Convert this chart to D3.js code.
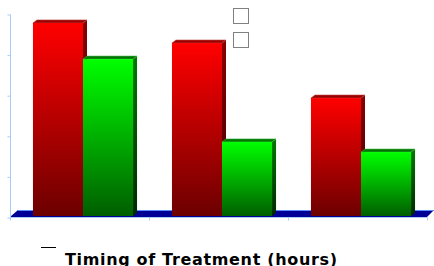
<!DOCTYPE html>
<html>
<head>
<meta charset="utf-8">
<script src="https://cdn.jsdelivr.net/npm/d3@7"></script>
<style>
  body { margin: 0; background: #fff; }
  svg { display: block; }
</style>
</head>
<body>
<div id="chart"></div>
<script>
// values (no tick labels shown, scale 0-100)
var categories = ["A", "B", "C"];
var seriesKeys = ["s1", "s2"];
var series1 = [95.1, 85.2, 58.1];
var series2 = [77.3, 36.5, 31.5];
var yTicks = [0, 20, 40, 60, 80, 100];
var xTitle = "Timing of Treatment (hours)";

var width = 434, height = 266;
var mLeft = 10, mRight = 427, mTop = 14, mBottom = 217;
var dx = 4, dy = 3; // 3d depth

var svg = d3.select("#chart").append("svg")
    .attr("width", width)
    .attr("height", height);

var defs = svg.append("defs");
function grad(id, c1, c2) {
    var g = defs.append("linearGradient").attr("id", id)
        .attr("x1", 0).attr("y1", 0).attr("x2", 0).attr("y2", 1);
    g.append("stop").attr("offset", "0%").attr("stop-color", c1);
    g.append("stop").attr("offset", "100%").attr("stop-color", c2);
}
grad("redFront", "#ff0000", "#6c0000");
grad("redSide", "#8a0000", "#3c0000");
grad("greenFront", "#00ff00", "#005e00");
grad("greenSide", "#007a00", "#002800");

var styles = [
    { front: "url(#redFront)", side: "url(#redSide)", top: "#9a0000", edge: "#c04040" },
    { front: "url(#greenFront)", side: "url(#greenSide)", top: "#007400", edge: "#40b040" }
];

var x0 = d3.scaleBand().domain(categories).range([mLeft, mRight])
    .paddingInner(0.28).paddingOuter(0.14);
var x1 = d3.scaleBand().domain(seriesKeys).range([0, x0.bandwidth()]);
var y = d3.scaleLinear().domain([0, 100]).range([mBottom, mTop]);

// floor
var floor = d3.path();
floor.moveTo(mLeft, mBottom);
floor.lineTo(mLeft + 8, mBottom - 7);
floor.lineTo(width, mBottom - 7);
floor.lineTo(mRight, mBottom);
floor.closePath();
svg.append("path").attr("d", floor.toString()).attr("fill", "#000096");
svg.append("line")
    .attr("x1", mLeft + 8).attr("x2", width)
    .attr("y1", mBottom - 6.5).attr("y2", mBottom - 6.5)
    .attr("stroke", "#5a8cff").attr("stroke-width", 1);

// y axis
var yAxis = d3.axisLeft(y).tickValues(yTicks).tickSize(3).tickFormat("");
var gy = svg.append("g").attr("transform", "translate(" + (mLeft + 0.5) + ",0.5)").call(yAxis);
gy.select(".domain").attr("stroke", "#a8ccf5").attr("d", "M0," + mTop + "V" + mBottom);
gy.selectAll(".tick line").attr("stroke", "#a8ccf5");

// x axis
var xAxis = d3.axisBottom(x0).tickSize(0).tickFormat("");
var gx = svg.append("g").attr("transform", "translate(0," + (mBottom + 0.5) + ")").call(xAxis);
gx.select(".domain").attr("stroke", "#a8ccf5").attr("d", "M" + mLeft + ",0H" + mRight);
var step = x0.step();
var bounds = d3.range(categories.length + 1).map(function(i) { return mLeft + i * step; });
gx.selectAll(".bnd").data(bounds).enter().append("line")
    .attr("x1", function(d) { return Math.round(d) + 0.5; })
    .attr("x2", function(d) { return Math.round(d) + 0.5; })
    .attr("y1", 0).attr("y2", 3)
    .attr("stroke", "#a8ccf5");

// bars
var data = [];
categories.forEach(function(c, i) {
    data.push({ cat: c, key: "s1", value: series1[i], s: 0 });
    data.push({ cat: c, key: "s2", value: series2[i], s: 1 });
});

var bars = svg.append("g").attr("transform", "translate(3.5,-1)");
data.forEach(function(d) {
    var bx = x0(d.cat) + x1(d.key);
    var bw = x1.bandwidth();
    var by = y(d.value);
    var bh = mBottom - by;
    var st = styles[d.s];
    // side face
    bars.append("path")
        .attr("d", "M" + (bx + bw) + "," + by + "L" + (bx + bw + dx) + "," + (by - dy) +
            "L" + (bx + bw + dx) + "," + (by - dy + bh) + "L" + (bx + bw) + "," + (by + bh) + "Z")
        .attr("fill", st.side);
    // top face
    bars.append("path")
        .attr("d", "M" + bx + "," + by + "L" + (bx + dx) + "," + (by - dy) +
            "L" + (bx + bw + dx) + "," + (by - dy) + "L" + (bx + bw) + "," + by + "Z")
        .attr("fill", st.top)
        .attr("stroke", st.edge).attr("stroke-width", 0.6);
    // front face
    bars.append("rect")
        .attr("x", bx).attr("y", by)
        .attr("width", bw).attr("height", bh)
        .attr("fill", st.front);
});

// legend (empty boxes)
var legend = svg.append("g");
legend.selectAll("rect").data(seriesKeys).enter().append("rect")
    .attr("x", 233.5)
    .attr("y", function(d, i) { return 8.5 + i * 24; })
    .attr("width", 15).attr("height", 15)
    .attr("fill", "#fff")
    .attr("stroke", "#808080").attr("stroke-width", 1);

// small dash and axis title
svg.append("line")
    .attr("x1", 41).attr("x2", 56).attr("y1", 247.5).attr("y2", 247.5)
    .attr("stroke", "#000").attr("stroke-width", 1);
svg.append("text")
    .attr("x", 65).attr("y", 265)
    .attr("font-family", "DejaVu Sans, Verdana, sans-serif")
    .attr("font-weight", "bold")
    .attr("font-size", 16)
    .attr("textLength", 272)
    .attr("lengthAdjust", "spacing")
    .attr("fill", "#000")
    .text(xTitle);
</script>
</body>
</html>
